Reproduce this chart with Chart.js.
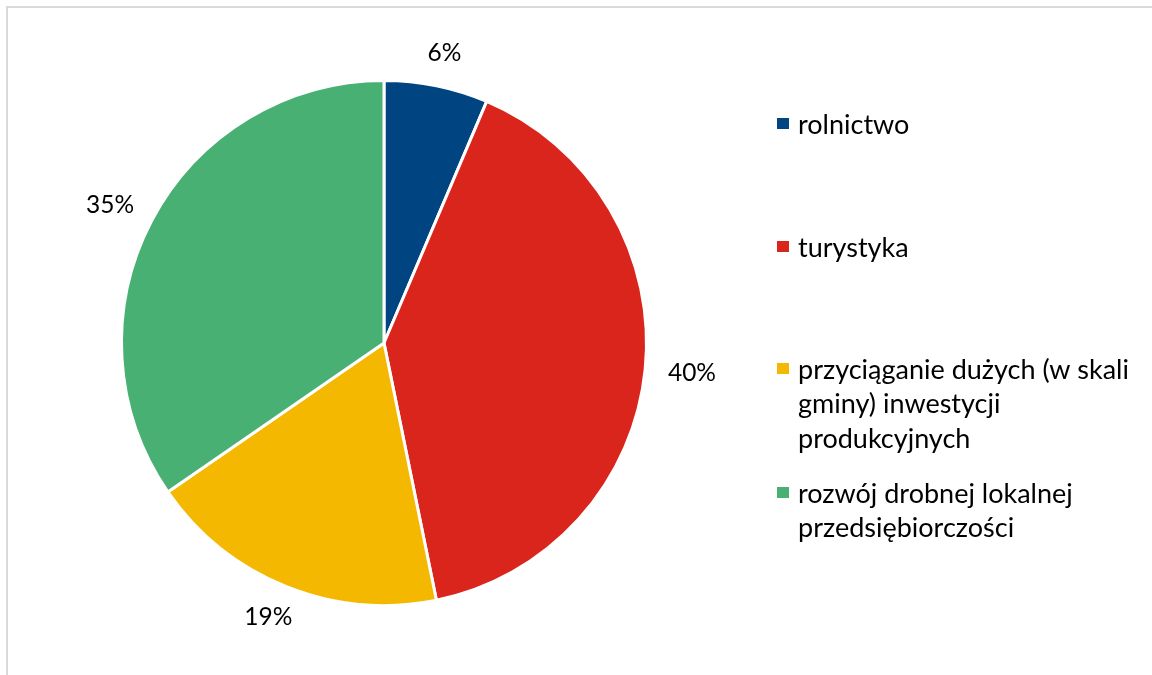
<!DOCTYPE html>
<html>
<head>
<meta charset="utf-8">
<script src="https://cdn.jsdelivr.net/npm/chart.js@4"></script>
<style>
  html, body { margin: 0; padding: 0; background: #fff; }
  #wrap { position: relative; width: 1152px; height: 675px; overflow: hidden; }
  #frame { position: absolute; left: 6px; top: 6px; right: -10px; bottom: -10px; border-top: 2px solid #d9d9d9; border-left: 2px solid #d9d9d9; }
  canvas { position: absolute; left: 0; top: 0; }
</style>
</head>
<body>
<div id="wrap">
  <div id="frame"></div>
  <canvas id="chart" width="1152" height="675"></canvas>
</div>
<script>
// categories and shares (percent)
const categories = ['rolnictwo', 'turystyka', 'przyciąganie dużych (w skali gminy) inwestycji produkcyjnych', 'rozwój drobnej lokalnej przedsiębiorczości'];
const legendLines = [['rolnictwo'], ['turystyka'], ['przyciąganie dużych (w skali', 'gminy) inwestycji', 'produkcyjnych'], ['rozwój drobnej lokalnej', 'przedsiębiorczości']];
const shares = [6.4, 40.4, 18.6, 34.6];
const shareLabels = ['6%', '40%', '19%', '35%'];
const colors = ['#004481', '#DA251D', '#F5B800', '#48B072'];

const FONT = 'Lato, "Open Sans", sans-serif';

// percentage labels outside the slices (text box pushed out along the mid angle)
const outsideLabels = {
    id: 'outsideLabels',
    afterDatasetsDraw(chart) {
        const c = chart.ctx;
        const meta = chart.getDatasetMeta(0);
        c.save();
        c.font = '24.5px ' + FONT;
        c.fillStyle = '#000';
        c.textAlign = 'center';
        c.textBaseline = 'middle';
        meta.data.forEach((arc, i) => {
            const p = arc.getProps(['x', 'y', 'startAngle', 'endAngle', 'outerRadius'], true);
            const mid = (p.startAngle + p.endAngle) / 2;
            const dx = Math.cos(mid), dy = Math.sin(mid);
            const r = p.outerRadius + 23;
            const w = c.measureText(shareLabels[i]).width;
            const h = 20;
            c.fillText(shareLabels[i], p.x + dx * r + dx * w / 2, p.y + dy * r + dy * h / 2);
        });
        c.restore();
    }
};

// legend on the right, wrapped like the original
const sideLegend = {
    id: 'sideLegend',
    afterDraw(chart) {
        const c = chart.ctx;
        const tops = [124, 247, 369, 493];
        c.save();
        c.font = '27px ' + FONT;
        c.textBaseline = 'middle';
        legendLines.forEach((lines, i) => {
            c.fillStyle = colors[i];
            c.fillRect(777, tops[i] - 6, 12, 11);
            c.fillStyle = '#000';
            lines.forEach((t, j) => c.fillText(t, 798, tops[i] + 1 + j * 34.5));
        });
        c.restore();
    }
};

new Chart(document.getElementById('chart'), {
    type: 'pie',
    data: {
        labels: categories,
        datasets: [{
            data: shares,
            backgroundColor: colors,
            borderColor: '#fff',
            borderWidth: 3
        }]
    },
    options: {
        responsive: false,
        animation: false,
        layout: { padding: { left: 120, right: 504, top: 78, bottom: 67 } },
        plugins: {
            legend: { display: false },
            tooltip: { enabled: false }
        }
    },
    plugins: [outsideLabels, sideLegend]
});
</script>
</body>
</html>
